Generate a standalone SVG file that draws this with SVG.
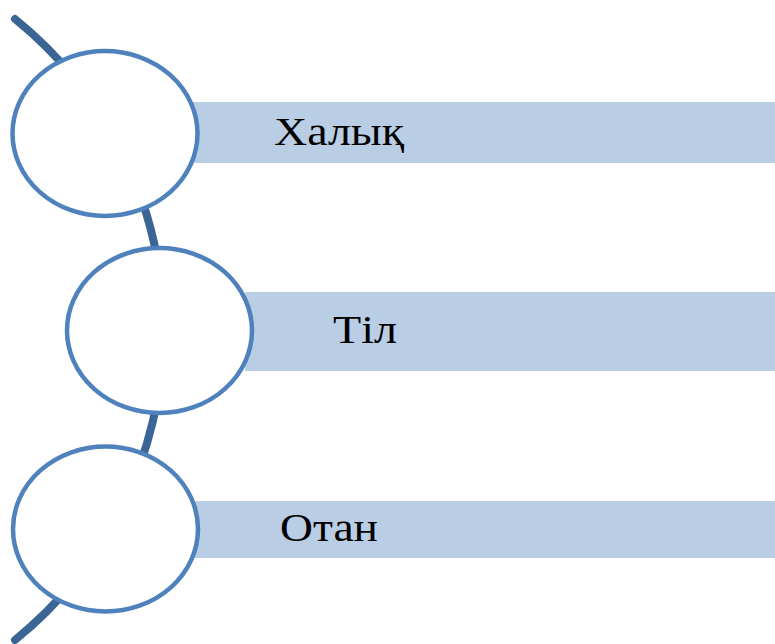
<svg xmlns="http://www.w3.org/2000/svg" width="775" height="644" viewBox="0 0 775 644">
<style>
.bar{fill:#b9cde5}
.node{fill:#ffffff;stroke:#4f81bd;stroke-width:4.5}
.lbl{font-family:'Liberation Serif','DejaVu Serif',serif;font-size:41px;fill:#000}
</style>
<rect width="775" height="644" fill="#ffffff"/>
<g id="connectors">
<path d="M15,19 A399,399 0 0 1 15,640" fill="none" stroke="#3a6595" stroke-width="8" stroke-linecap="round"/>
</g>
<g id="node1">
<rect class="bar" x="190" y="102" width="585" height="61"/>
<ellipse class="node" cx="105" cy="133.5" rx="92.5" ry="82.5"/>
<text class="lbl" x="274" y="145" textLength="130" lengthAdjust="spacingAndGlyphs">Халық</text>
</g>
<g id="node2">
<rect class="bar" x="245" y="292" width="530" height="79"/>
<ellipse class="node" cx="159.5" cy="330.5" rx="92.5" ry="82.5"/>
<text class="lbl" x="333" y="343" textLength="64" lengthAdjust="spacingAndGlyphs">Тіл</text>
</g>
<g id="node3">
<rect class="bar" x="190" y="501" width="585" height="57"/>
<ellipse class="node" cx="105.5" cy="529" rx="92.5" ry="82.5"/>
<text class="lbl" x="280" y="541" textLength="98" lengthAdjust="spacingAndGlyphs">Отан</text>
</g>
</svg>
